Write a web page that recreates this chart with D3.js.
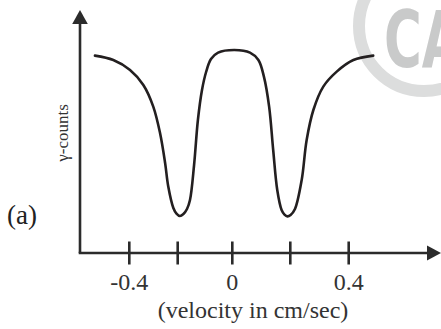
<!DOCTYPE html>
<html>
<head>
<meta charset="utf-8">
<script src="https://cdn.jsdelivr.net/npm/d3@7"></script>
<style>
  body { margin: 0; background: #fff; }
  svg { display: block; }
</style>
</head>
<body>
<script>
// velocity (cm/sec) and gamma counts (arbitrary units)
var velocity = [-0.542, -0.466, -0.397, -0.342, -0.301, -0.273, -0.252, -0.239, -0.218, -0.205,
                -0.192, -0.179, -0.166, -0.155, -0.140, -0.126, -0.111, -0.096, -0.078, -0.052,
                0.007, 0.061, 0.090, 0.109, 0.127, 0.141, 0.155, 0.170, 0.180, 0.190,
                0.201, 0.216, 0.239, 0.256, 0.279, 0.313, 0.359, 0.416, 0.484];
var counts = [98.7, 96.5, 91.5, 84, 73.2, 60, 45, 33.2, 22.5, 19.7,
              18.5, 19.5, 22, 26.5, 44, 66.5, 81.5, 90.5, 97, 100.2,
              101.5, 100.2, 96.5, 88.2, 73.2, 51.5, 31.5, 21.5, 19.2, 18.3,
              19, 22, 36.5, 56.5, 71.5, 83.2, 90.7, 96.5, 98.7];
var tickValues = [-0.4, -0.2, 0, 0.2, 0.4];
var tickLabels = ["-0.4", "", "0", "", "0.4"];

var W = 441, H = 329;
var svg = d3.select("body").append("svg")
    .attr("width", W)
    .attr("height", H)

var axisY = 253, axisX = 80;
var ink = "#2b2b2b";

// watermark (partial logo in the corner)
svg.append("circle")
    .attr("cx", 424).attr("cy", 26).attr("r", 65)
    .attr("fill", "none")
    .attr("stroke", "#dcdddd")
    .attr("stroke-width", 12)
svg.append("text")
    .attr("transform", "translate(384,67) scale(0.66,1)")
    .attr("font-family", "DejaVu Sans")
    .attr("font-weight", "bold")
    .attr("font-size", 78)
    .attr("fill", "#c9caca")
    .text("CA")

// hand-drawn tick spacing is a bit uneven, so use a piecewise scale
var x = d3.scaleLinear()
    .domain(tickValues)
    .range([129.3, 177.7, 232.3, 290.3, 348.7])

var y = d3.scaleLinear()
    .domain([0, 100])
    .range([axisY, 53])

// axes
svg.append("line")
    .attr("x1", axisX).attr("y1", axisY)
    .attr("x2", axisX).attr("y2", 22)
    .attr("stroke", ink).attr("stroke-width", 2.6)
svg.append("path")
    .attr("d", "M" + axisX + ",10 L" + (axisX - 7.8) + ",24 L" + (axisX + 7.8) + ",24 Z")
    .attr("fill", ink)
svg.append("line")
    .attr("x1", axisX - 1.3).attr("y1", axisY)
    .attr("x2", 430).attr("y2", axisY)
    .attr("stroke", ink).attr("stroke-width", 2.6)
svg.append("path")
    .attr("d", "M441," + axisY + " L427," + (axisY - 7.5) + " L427," + (axisY + 7.5) + " Z")
    .attr("fill", ink)

svg.selectAll(".tick")
    .data(tickValues)
    .enter().append("line")
    .attr("class", "tick")
    .attr("x1", function(d){ return x(d); })
    .attr("x2", function(d){ return x(d); })
    .attr("y1", axisY - 11.5)
    .attr("y2", axisY + 11.5)
    .attr("stroke", ink).attr("stroke-width", 2.6)

svg.selectAll(".tlabel")
    .data(tickValues)
    .enter().append("text")
    .attr("class", "tlabel")
    .attr("x", function(d){ return x(d); })
    .attr("y", 290)
    .attr("text-anchor", "middle")
    .attr("font-family", "Liberation Serif")
    .attr("font-size", 24)
    .attr("fill", "#333")
    .text(function(d, i){ return tickLabels[i]; })

svg.append("text")
    .attr("x", 253).attr("y", 318)
    .attr("text-anchor", "middle")
    .attr("font-family", "Liberation Serif")
    .attr("font-size", 24)
    .attr("fill", "#333")
    .text("(velocity in cm/sec)")

svg.append("text")
    .attr("transform", "translate(68,133) rotate(-90)")
    .attr("text-anchor", "middle")
    .attr("font-family", "Liberation Serif")
    .attr("font-size", 17)
    .attr("fill", "#333")
    .text("γ-counts")

svg.append("text")
    .attr("x", 7).attr("y", 224)
    .attr("font-family", "Liberation Serif")
    .attr("font-size", 27)
    .attr("fill", "#222")
    .text("(a)")

// spectrum
var line = d3.line()
    .x(function(d, i){ return x(velocity[i]); })
    .y(function(d){ return y(d); })
    .curve(d3.curveCatmullRom.alpha(0.5))

svg.append("path")
    .datum(counts)
    .attr("d", line)
    .attr("fill", "none")
    .attr("stroke", "#231f20")
    .attr("stroke-width", 2.6)
    .attr("stroke-linecap", "round")
</script>
</body>
</html>
